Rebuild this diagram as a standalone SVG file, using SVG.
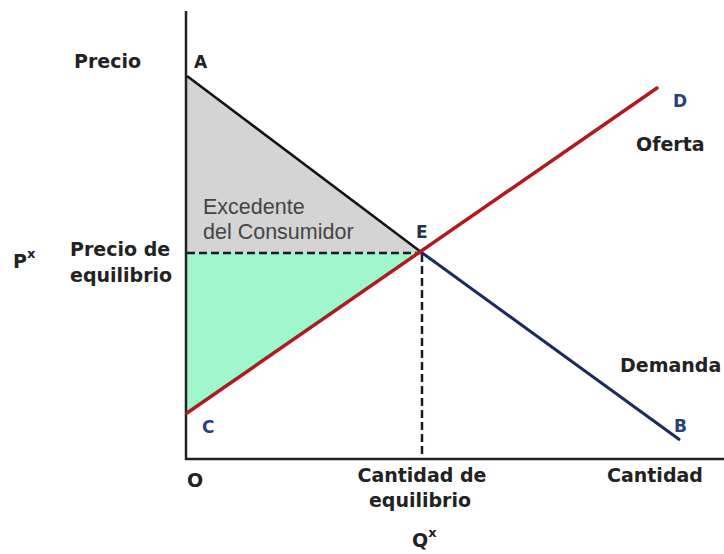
<svg xmlns="http://www.w3.org/2000/svg" width="724" height="554" viewBox="0 0 724 554">
<style>
.lbl{font-family:"DejaVu Sans","Liberation Sans",sans-serif;font-weight:bold;font-size:19px;fill:#222}
.pt{font-family:"DejaVu Sans","Liberation Sans",sans-serif;font-weight:bold;font-size:17px}
.reg{font-family:"Liberation Sans",Arial,sans-serif;font-size:21.5px;fill:#444}
.sup{font-size:13px}
.axis{stroke:#222;stroke-width:2.5;fill:none}
.dash{stroke:#1a1a2e;stroke-width:2.5;stroke-dasharray:8 4;fill:none}
</style>
<rect width="724" height="554" fill="#fff"/>
<g id="areas">
<polygon id="consumer-surplus" points="187,76 421,252 187,252" fill="#d4d4d4"/>
<polygon id="producer-surplus" points="187,252 421,252 187,413" fill="#9ff7cb"/>
</g>
<g id="connectors">
<line class="axis" x1="186" y1="11" x2="186" y2="460"/>
<line class="axis" x1="185" y1="459" x2="724" y2="459"/>
<line class="dash" x1="187" y1="253" x2="421" y2="253"/>
<line class="dash" x1="422" y1="254" x2="422" y2="458"/>
<line id="demanda-a" x1="187" y1="76" x2="421" y2="252" stroke="#111" stroke-width="2.5"/>
<line id="demanda-b" x1="421" y1="252" x2="680" y2="440" stroke="#1b2a5e" stroke-width="3"/>
<line id="oferta" x1="187" y1="413" x2="657" y2="88" stroke="#b3191c" stroke-width="3.5" stroke-linecap="round"/>
</g>
<g id="label-precio"><text class="lbl" x="74" y="68">Precio</text></g>
<g id="label-px"><text class="lbl" x="13" y="268">P<tspan class="sup" dy="-10">x</tspan></text></g>
<g id="label-precio-eq"><text class="lbl" x="70" y="256">Precio de</text><text class="lbl" x="70" y="282">equilibrio</text></g>
<g id="label-excedente"><text class="reg" x="203" y="214">Excedente</text><text class="reg" x="203" y="239">del Consumidor</text></g>
<g id="point-a"><text class="pt" x="194" y="68" fill="#222">A</text></g>
<g id="point-e"><text class="pt" x="416" y="238" fill="#26304f">E</text></g>
<g id="point-c"><text class="pt" x="202" y="433" fill="#2b3f7a">C</text></g>
<g id="point-b"><text class="pt" x="674" y="432" fill="#2b3f7a">B</text></g>
<g id="point-d"><text class="pt" x="673" y="107" fill="#2b3f7a">D</text></g>
<g id="point-o"><text class="lbl" x="187" y="487">O</text></g>
<g id="label-oferta"><text class="lbl" x="636" y="151">Oferta</text></g>
<g id="label-demanda"><text class="lbl" x="620" y="372">Demanda</text></g>
<g id="label-cantidad-eq"><text class="lbl" x="422" y="482" text-anchor="middle">Cantidad de</text><text class="lbl" x="420" y="507" text-anchor="middle">equilibrio</text></g>
<g id="label-qx"><text class="lbl" x="412" y="547">Q<tspan class="sup" dy="-10">x</tspan></text></g>
<g id="label-cantidad"><text class="lbl" x="607" y="482">Cantidad</text></g>
</svg>
